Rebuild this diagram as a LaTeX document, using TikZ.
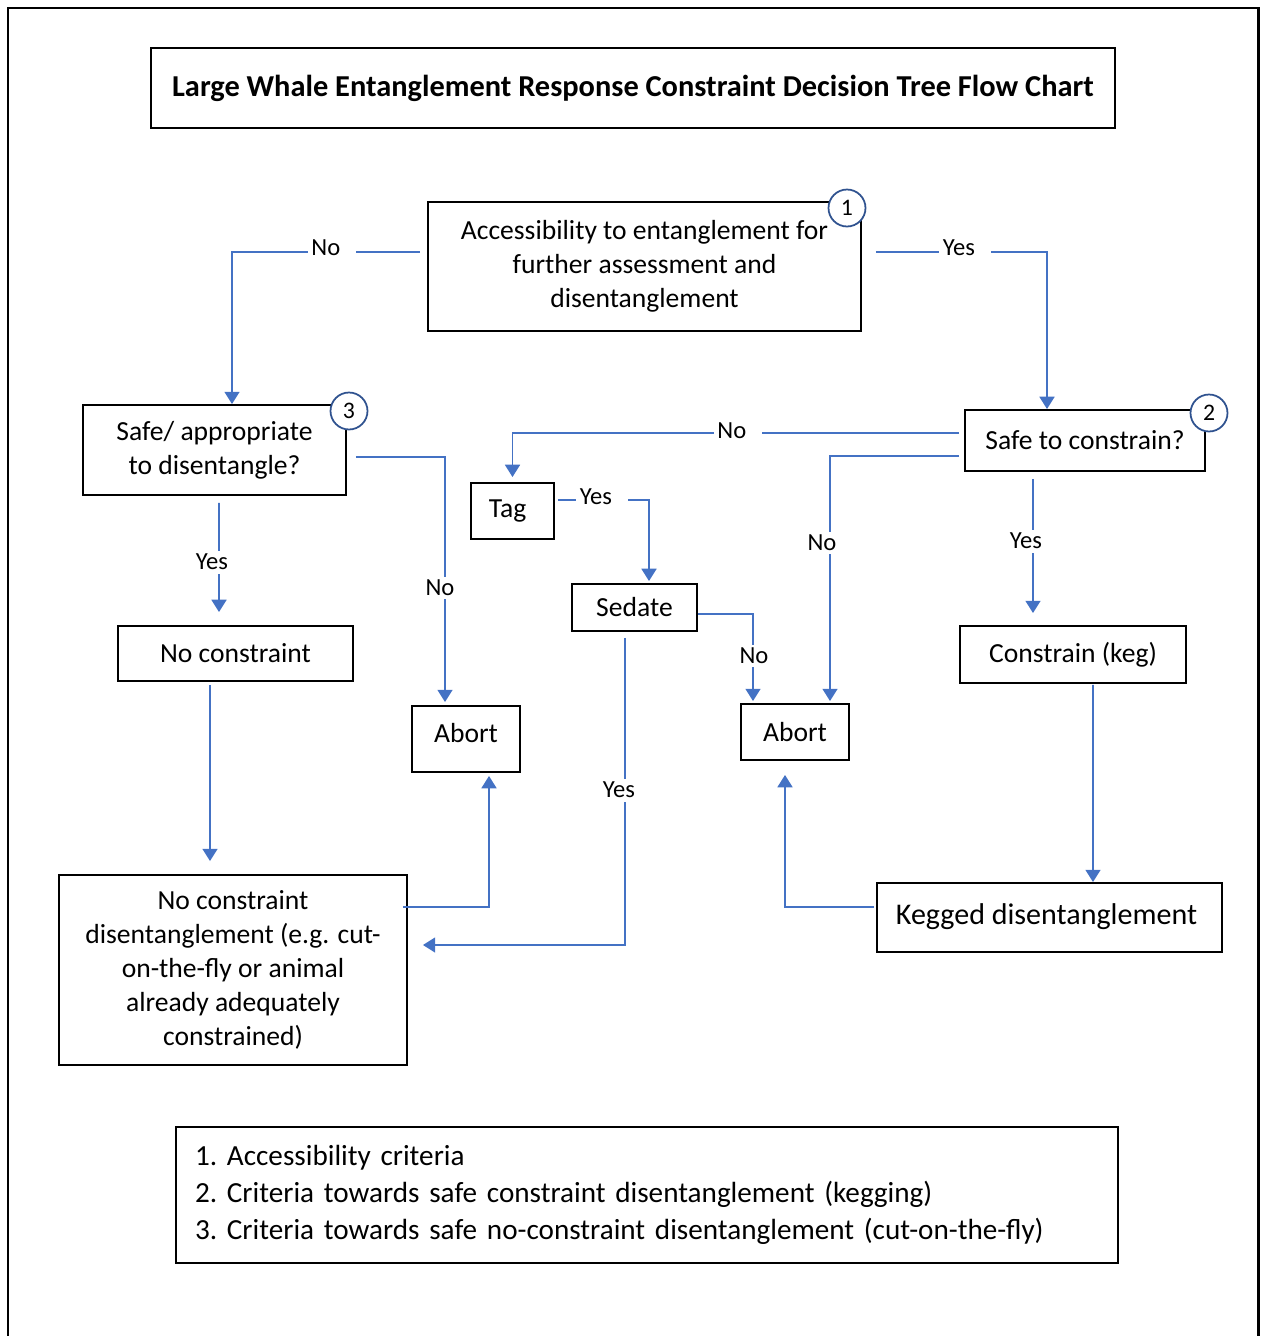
\documentclass[tikz,border=0pt]{standalone}
\usepackage{fontspec}
\setmainfont{Carlito}
\usetikzlibrary{arrows.meta,calc}
\definecolor{linkblue}{HTML}{4472C4}
\definecolor{ringblue}{HTML}{2F528F}

\begin{document}
\begin{tikzpicture}[x=0.02cm,y=-0.02cm,
  box/.style={draw=black, line width=1.1pt, align=center, inner sep=0pt,
              font=\fontsize{15.7}{19.3}\selectfont},
  link/.style={draw=linkblue, line width=1.1pt},
  arr/.style={link, -{Triangle[width=8.5pt,length=7pt]}},
  lbl/.style={fill=white, inner sep=2pt, font=\fontsize{14}{16}\selectfont},
  lblh/.style={lbl, execute at end node={\kern7pt}},
  ring/.style={circle, draw=ringblue, fill=white, line width=1pt,
               minimum size=0.74cm, inner sep=0pt, font=\fontsize{13.5}{15}\selectfont}]

\useasboundingbox (0,0) rectangle (1262,1336);

% page frame, open at the bottom
\draw[line width=1.7pt] (8,1336) -- (8,8) -- (1258,8) -- (1258,1336);

% title
\node[box, minimum width=19.28cm, minimum height=1.6cm,
      font=\bfseries\fontsize{17.3}{20}\selectfont] (title) at (633,88)
  {Large Whale Entanglement Response Constraint Decision Tree Flow Chart};

% decision and action boxes
\node[box, minimum width=8.66cm, minimum height=2.58cm] (access) at (644.5,266.5)
  {Accessibility to entanglement for\\further assessment and\\disentanglement};
\node[box, minimum width=5.26cm, minimum height=1.8cm] (safeapp) at (214.5,450)
  {Safe/ appropriate\\to disentangle?};
\node[box, minimum width=4.8cm, minimum height=1.22cm] (safecon) at (1085,440.5)
  {Safe to constrain?};
\node[box, minimum width=1.66cm, minimum height=1.12cm] (tag) at (512.5,511) {Tag\kern0.2cm};
\node[box, minimum width=2.5cm, minimum height=0.94cm] (sedate) at (634.5,607.5) {Sedate};
\node[box, minimum width=4.7cm, minimum height=1.1cm] (nocon) at (235.5,653.5) {No constraint};
\node[box, minimum width=2.16cm, minimum height=1.32cm] (abortA) at (466,739)
  {\raisebox{0.24cm}{Abort}};
\node[box, minimum width=2.16cm, minimum height=1.12cm] (abortB) at (795,732) {Abort};
\node[box, minimum width=4.52cm, minimum height=1.14cm] (keg) at (1073,654.5) {Constrain (keg)};
\node[box, minimum width=6.96cm, minimum height=3.8cm] (ncd) at (233,970)
  {No constraint\\disentanglement (e.g. cut-\\on-the-fly or animal\\already adequately\\constrained)};
\node[box, minimum width=6.9cm, minimum height=1.38cm,
      font=\fontsize{17.1}{20}\selectfont] (kegged) at (1049.5,917.5)
  {\raisebox{0.12cm}{Kegged disentanglement\kern0.12cm}};

% numbered criteria markers
\node[ring] (ring1) at (847,208) {1};
\node[ring] (ring2) at (1209,413) {2};
\node[ring] (ring3) at (349,411) {3};

% connectors
\draw[arr] ($(access.west)+(-7,-14.5)$) -| ($(safeapp.north)+(17.5,0)$);
\draw[arr] ($(access.east)+(14,-14.5)$) -| ($(safecon.north)+(-38,0)$);
\draw[arr] ($(safecon.west)+(-5,-7.5)$) -| ($(tag.north)+(0,-5)$);
\draw[arr] ($(safecon.west)+(-5,15.5)$) -| ($(abortB.north)+(35,-2)$);
\draw[arr] ($(safecon.south)+(-52,7)$) -- ($(keg.north)+(-40,-12)$);
\draw[arr] ($(tag.east)+(3,-11)$) -| ($(sedate.north)+(14.5,-2)$);
\draw[arr] ($(sedate.east)+(0,6.5)$) -| ($(abortB.north)+(-42,-2)$);
\draw[arr] ($(sedate.south)+(-9.5,6)$) |- ($(ncd.east)+(15,-25)$);
\draw[arr] ($(safeapp.south)+(4.5,7)$) -- ($(nocon.north)+(-16.5,-13)$);
\draw[arr] ($(safeapp.east)+(9,7)$) -| ($(abortA.north)+(-21,-3)$);
\draw[arr] ($(nocon.south)+(-25.5,3)$) -- ($(ncd.north)+(-23,-13)$);
\draw[arr] ($(ncd.east)+(-5,-63)$) -| ($(abortA.south)+(23,3)$);
\draw[arr] ($(keg.south)+(20,1)$) -- ($(kegged.north)+(43.5,0)$);
\draw[arr] ($(kegged.west)+(-2,-10.5)$) -| ($(abortB.south)+(-10,14)$);

% connector labels
\node[lblh] (noA) at (332,248) {No};
\node[lblh] (yesA) at (965,248) {Yes};
\node[lblh] (noB) at (738,431) {No};
\node[lblh] (yesC) at (602,497) {Yes};
\node[lbl] (noC) at (822,543) {No};
\node[lbl] (yesB) at (1026,541) {Yes};
\node[lbl] (noD) at (754,656) {No};
\node[lbl] (yesD) at (619,790) {Yes};
\node[lbl] (yesE) at (212,562) {Yes};
\node[lbl] (noE) at (440,588) {No};

% legend
\node[box, align=left, text width=18.08cm, inner xsep=0.38cm, minimum height=2.72cm,
      font=\frenchspacing\fontsize{16.6}{21}\selectfont] (legend) at (647,1195)
  {1. Accessibility criteria\\
   2. Criteria towards safe constraint disentanglement (kegging)\\
   3. Criteria towards safe no-constraint disentanglement (cut-on-the-fly)};
\end{tikzpicture}
\end{document}
